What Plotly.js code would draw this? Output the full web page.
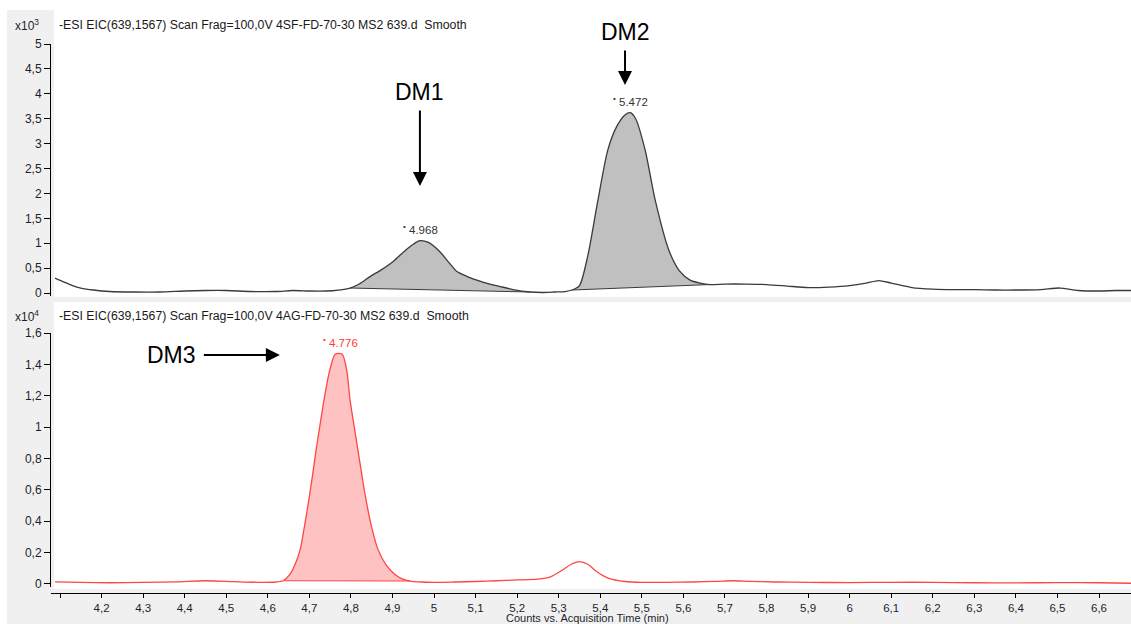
<!DOCTYPE html>
<html>
<head>
<meta charset="utf-8">
<script src="https://cdn.plot.ly/plotly-3.0.1.min.js"></script>
<style>
html,body{margin:0;padding:0;background:#ffffff;}
#chart{width:1131px;height:624px;}
</style>
</head>
<body>
<div id="chart"></div>
<script>
// ---------------- DATA ----------------
// Top trace: 4SF-FD-70-30 (counts x10^3)
var topTime = [4.088, 4.11, 4.13, 4.15, 4.18, 4.22, 4.28, 4.34, 4.40, 4.45, 4.50, 4.56, 4.62, 4.66, 4.70, 4.74, 4.77,
  4.798, 4.82, 4.846, 4.87, 4.901, 4.93, 4.95, 4.966, 4.985, 5.014, 5.035, 5.055, 5.08, 5.103, 5.13, 5.159, 5.19, 5.231,
  5.26, 5.29, 5.315, 5.332, 5.35, 5.37, 5.394, 5.418, 5.44, 5.46, 5.472, 5.485, 5.508, 5.532, 5.565, 5.59, 5.616, 5.64, 5.664,
  5.70, 5.75, 5.80, 5.85, 5.90, 5.95, 6.00, 6.04, 6.07, 6.10, 6.15, 6.20, 6.25, 6.30, 6.35, 6.40, 6.46, 6.506, 6.55, 6.60, 6.64, 6.677];
var topCounts = [0.30, 0.22, 0.15, 0.10, 0.06, 0.03, 0.02, 0.02, 0.04, 0.05, 0.05, 0.03, 0.03, 0.05, 0.04, 0.04, 0.06,
  0.10, 0.18, 0.33, 0.45, 0.63, 0.85, 0.98, 1.05, 1.02, 0.83, 0.62, 0.43, 0.33, 0.26, 0.19, 0.13, 0.07, 0.02,
  0.01, 0.02, 0.03, 0.06, 0.15, 0.75, 1.85, 2.87, 3.35, 3.58, 3.62, 3.50, 2.87, 1.87, 0.86, 0.45, 0.26, 0.20, 0.17,
  0.18, 0.18, 0.17, 0.14, 0.11, 0.12, 0.15, 0.20, 0.25, 0.20, 0.11, 0.08, 0.07, 0.07, 0.06, 0.06, 0.07, 0.10, 0.05, 0.04, 0.05, 0.05];
var topPeakTimes = [4.968, 5.472];
var topPeakCounts = [1.05, 3.62];
var topIntegrationStart = [4.798, 5.332];
var topIntegrationEnd = [5.231, 5.664];

// Bottom trace: 4AG-FD-70-30 (counts x10^4)
var botTime = [4.088, 4.15, 4.22, 4.30, 4.38, 4.45, 4.52, 4.58, 4.62, 4.637, 4.653, 4.665, 4.678, 4.689, 4.699, 4.708,
  4.716, 4.726, 4.735, 4.748, 4.762, 4.779, 4.79, 4.798, 4.808, 4.817, 4.826, 4.836, 4.85, 4.865, 4.885, 4.906, 4.925,
  4.942, 4.97, 5.00, 5.05, 5.10, 5.15, 5.20, 5.25, 5.28, 5.31, 5.33, 5.35, 5.37, 5.39, 5.42, 5.46, 5.50, 5.56, 5.62,
  5.68, 5.72, 5.76, 5.82, 5.90, 6.00, 6.10, 6.20, 6.30, 6.40, 6.50, 6.60, 6.677];
var botCounts = [0.013, 0.009, 0.007, 0.009, 0.013, 0.020, 0.014, 0.010, 0.012, 0.020, 0.06, 0.12, 0.22, 0.38, 0.54, 0.70,
  0.85, 1.02, 1.17, 1.35, 1.465, 1.465, 1.36, 1.17, 1.00, 0.85, 0.70, 0.54, 0.36, 0.22, 0.12, 0.06, 0.03,
  0.018, 0.012, 0.010, 0.012, 0.015, 0.020, 0.025, 0.030, 0.045, 0.09, 0.125, 0.142, 0.125, 0.08, 0.035, 0.015, 0.010, 0.010, 0.012,
  0.016, 0.020, 0.016, 0.012, 0.010, 0.008, 0.010, 0.010, 0.007, 0.006, 0.008, 0.007, 0.004];
var botPeakTimes = [4.776];
var botPeakCounts = [1.465];
var botIntegrationStart = [4.637];
var botIntegrationEnd = [4.942];

// Axis ticks / labels
var xTickValues = [4.2, 4.3, 4.4, 4.5, 4.6, 4.7, 4.8, 4.9, 5.0, 5.1, 5.2, 5.3, 5.4, 5.5, 5.6, 5.7, 5.8, 5.9, 6.0, 6.1, 6.2, 6.3, 6.4, 6.5, 6.6];
var xTickLabels = ['4,2', '4,3', '4,4', '4,5', '4,6', '4,7', '4,8', '4,9', '5', '5,1', '5,2', '5,3', '5,4', '5,5', '5,6', '5,7', '5,8', '5,9', '6', '6,1', '6,2', '6,3', '6,4', '6,5', '6,6'];
var topHeader = '-ESI EIC(639,1567) Scan Frag=100,0V 4SF-FD-70-30 MS2 639.d  Smooth';
var botHeader = '-ESI EIC(639,1567) Scan Frag=100,0V 4AG-FD-70-30 MS2 639.d  Smooth';
var xTitle = 'Counts vs. Acquisition Time (min)';

// ---------------- HELPERS ----------------
var W = 1131, H = 624, ML = 51;
function px(x) { return (x - ML) / (W - ML); }
function py(y) { return 1 - y / H; }
var FONT = 'Liberation Sans, Arial, sans-serif';
var TICKCOL = '#1c1f2e';

function windowOf(t, v, lo, hi) {
  var xs = [], ys = [];
  for (var i = 0; i < t.length; i++) {
    if (t[i] >= lo - 1e-9 && t[i] <= hi + 1e-9) { xs.push(t[i]); ys.push(v[i]); }
  }
  return {x: xs, y: ys};
}

var traces = [];
function addSeries(t, v, starts, ends, yaxis, lineCol, fillCol) {
  for (var k = 0; k < starts.length; k++) {
    var w = windowOf(t, v, starts[k], ends[k]);
    traces.push({x: w.x, y: w.y, xaxis: 'x', yaxis: yaxis, type: 'scatter', mode: 'lines',
      fill: 'toself', fillcolor: fillCol, line: {width: 0, shape: 'spline', smoothing: 0.7},
      hoverinfo: 'skip', showlegend: false});
    traces.push({x: [w.x[0], w.x[w.x.length - 1]], y: [w.y[0], w.y[w.y.length - 1]], xaxis: 'x', yaxis: yaxis,
      type: 'scatter', mode: 'lines', line: {color: lineCol, width: 1}, hoverinfo: 'skip', showlegend: false});
  }
  traces.push({x: t, y: v, xaxis: 'x', yaxis: yaxis, type: 'scatter', mode: 'lines',
    line: {color: lineCol, width: 1.3, shape: 'spline', smoothing: 0.7}, hoverinfo: 'skip', showlegend: false});
}
addSeries(topTime, topCounts, topIntegrationStart, topIntegrationEnd, 'y', '#3a3a3a', '#c0c0c0');
addSeries(botTime, botCounts, botIntegrationStart, botIntegrationEnd, 'y2', '#ff4545', 'rgba(255,120,120,0.45)');

var annotations = [];
function peakLabels(times, heights, yref, col) {
  for (var i = 0; i < times.length; i++) {
    annotations.push({x: times[i], y: heights[i], xref: 'x', yref: yref, showarrow: false,
      text: '<sup>•</sup> ' + times[i].toFixed(3), xanchor: 'center', yanchor: 'bottom', yshift: 3,
      font: {family: FONT, size: 11.5, color: col}});
  }
}
peakLabels(topPeakTimes, topPeakCounts, 'y', '#333333');
peakLabels(botPeakTimes, botPeakCounts, 'y2', '#ff3b3b');

// headers and exponent labels
annotations.push({xref: 'paper', yref: 'paper', x: px(57), y: py(25), xanchor: 'left', yanchor: 'middle',
  text: topHeader, showarrow: false, font: {family: FONT, size: 12.3, color: '#1a1a1a'}});
annotations.push({xref: 'paper', yref: 'paper', x: px(57), y: py(316), xanchor: 'left', yanchor: 'middle',
  text: botHeader, showarrow: false, font: {family: FONT, size: 12.3, color: '#1a1a1a'}});
annotations.push({xref: 'paper', yref: 'paper', x: px(13), y: py(25), xanchor: 'left', yanchor: 'middle',
  text: 'x10<sup>3</sup>', showarrow: false, font: {family: FONT, size: 12, color: TICKCOL}});
annotations.push({xref: 'paper', yref: 'paper', x: px(13), y: py(316), xanchor: 'left', yanchor: 'middle',
  text: 'x10<sup>4</sup>', showarrow: false, font: {family: FONT, size: 12, color: TICKCOL}});

// DM labels with arrows
var dmFont = {family: FONT, size: 23, color: '#000000'};
annotations.push({x: 4.966, y: 2.149, xref: 'x', yref: 'y', text: 'DM1', showarrow: true, ax: 0, ay: -94,
  arrowhead: 2, arrowsize: 1.4, arrowwidth: 2, arrowcolor: '#000', startstandoff: 4, font: dmFont});
annotations.push({x: 5.4595, y: 4.177, xref: 'x', yref: 'y', text: 'DM2', showarrow: true, ax: 0, ay: -53,
  arrowhead: 2, arrowsize: 1.4, arrowwidth: 2, arrowcolor: '#000', startstandoff: 4, font: dmFont});
annotations.push({x: 4.629, y: 1.4595, xref: 'x', yref: 'y2', text: 'DM3', showarrow: true, ax: -108, ay: 0,
  arrowhead: 2, arrowsize: 1.4, arrowwidth: 2, arrowcolor: '#000', startstandoff: 6, font: dmFont});

// x-axis title placed under the tick labels, centred like the reference
annotations.push({xref: 'paper', yref: 'paper', x: px(587), y: py(611), xanchor: 'center', yanchor: 'top',
  text: xTitle, showarrow: false, borderpad: 0, font: {family: FONT, size: 11, color: TICKCOL}});

var shapes = [
  {type: 'rect', xref: 'paper', yref: 'paper', x0: px(7), x1: 1.01, y0: -0.01, y1: py(10), fillcolor: '#f0f0f0', line: {width: 0}, layer: 'below'},
  {type: 'rect', xref: 'paper', yref: 'paper', x0: px(54), x1: 1.01, y0: py(297), y1: 1.01, fillcolor: '#ffffff', line: {width: 0}, layer: 'below'},
  {type: 'rect', xref: 'paper', yref: 'paper', x0: px(54), x1: 1.01, y0: py(589), y1: py(302), fillcolor: '#ffffff', line: {width: 0}, layer: 'below'}
];

var tickFont = {family: FONT, size: 12, color: TICKCOL};
var layout = {
  width: W, height: H,
  margin: {l: ML, r: 0, t: 0, b: 0, pad: 0},
  paper_bgcolor: '#ffffff', plot_bgcolor: 'rgba(0,0,0,0)',
  separators: ', ',
  showlegend: false,
  xaxis: {domain: [0, 1], range: [4.0783, 6.677], anchor: 'free', position: py(593),
    tickmode: 'array', tickvals: xTickValues, ticktext: xTickLabels,
    ticks: 'outside', ticklen: 4, tickwidth: 1, tickcolor: '#000', showline: true, linecolor: '#000', linewidth: 1,
    showgrid: false, zeroline: false, tickfont: {family: FONT, size: 11.5, color: TICKCOL}, automargin: false,
    minor: {tickvals: [4.1], ticks: 'outside', ticklen: 4, tickcolor: '#000', showgrid: false}},
  yaxis: {domain: [py(296), py(44)], range: [-0.06, 5], anchor: 'x', tick0: 0, dtick: 0.5,
    ticks: 'outside', ticklen: 6, tickwidth: 1, tickcolor: '#000', showline: true, linecolor: '#000', linewidth: 1,
    showgrid: false, zeroline: false, tickfont: tickFont, automargin: false},
  yaxis2: {domain: [py(587), py(333)], range: [-0.02, 1.6], anchor: 'x', tick0: 0, dtick: 0.2,
    ticks: 'outside', ticklen: 6, tickwidth: 1, tickcolor: '#000', showline: true, linecolor: '#000', linewidth: 1,
    showgrid: false, zeroline: false, tickfont: tickFont, automargin: false},
  annotations: annotations,
  shapes: shapes
};

Plotly.newPlot('chart', traces, layout, {displayModeBar: false, staticPlot: true});
</script>
</body>
</html>
